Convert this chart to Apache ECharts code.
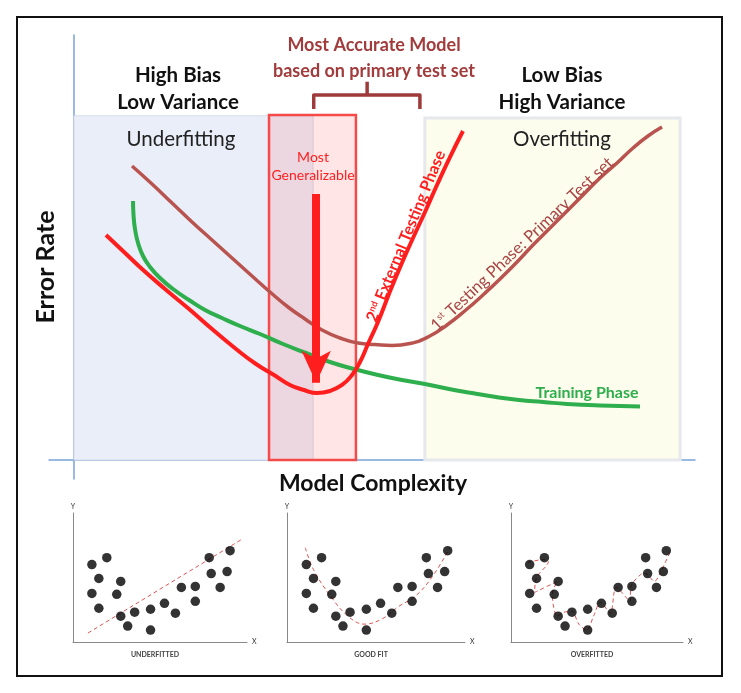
<!DOCTYPE html>
<html>
<head>
<meta charset="utf-8">
<script src="https://cdn.jsdelivr.net/npm/echarts@6/dist/echarts.min.js"></script>
<style>
html,body{margin:0;padding:0;background:#fff;}
#chart{width:741px;height:693px;}
</style>
</head>
<body>
<div id="chart"></div>
<script>
// ---------- Main chart data (Model Complexity 0-100, Error Rate 0-100) ----------
const externalTest = [[5.15,52.94],[8.05,48.94],[10.95,44.94],[14.65,40.24],[18.52,35.53],[22.22,30.82],[26.09,26.12],[29.31,22.59],[32.21,20.0],[34.78,17.65],[37.04,16.47],[39.13,15.76],[41.22,16.24],[43.16,17.65],[44.77,20.0],[46.05,23.06],[47.34,27.29],[48.95,32.47],[50.72,39.06],[52.66,45.88],[54.59,52.24],[56.52,58.35],[58.45,64.71],[60.39,70.82],[62.64,77.41]];
const primaryTest = [[9.34,69.18],[12.56,64.94],[15.78,60.47],[19.0,56.0],[22.22,51.76],[25.44,47.53],[28.66,43.29],[31.56,39.53],[34.46,36.0],[37.2,33.18],[39.94,30.59],[42.83,28.71],[45.73,27.53],[48.47,27.18],[51.21,26.94],[54.11,27.41],[57.0,28.94],[60.06,31.76],[63.29,35.53],[66.02,39.06],[68.6,42.59],[71.34,46.59],[73.91,50.59],[76.65,54.59],[79.39,58.59],[82.13,62.59],[84.7,66.35],[87.44,69.88],[90.02,73.41],[92.43,76.24],[94.69,78.35]];
const training = [[9.5,60.94],[9.58,57.65],[9.82,54.35],[10.31,51.06],[11.11,48.0],[12.24,45.41],[13.85,42.82],[15.94,40.24],[18.52,37.65],[21.1,35.29],[23.83,33.41],[26.73,31.53],[29.95,29.65],[33.66,27.29],[37.36,25.18],[41.22,23.06],[45.09,21.41],[48.95,20.0],[52.82,18.82],[56.52,17.88],[60.39,16.71],[64.09,15.76],[67.95,14.82],[71.66,14.12],[75.52,13.65],[79.39,13.18],[84.7,12.82],[91.14,12.59]];
// regions: [xStart, xEnd, yTop]
const underfitRegion = [0, 38.5, 81.0];
const overfitRegion = [56.5, 97.6, 80.5];
const generalizableRegion = [31.4, 45.4, 81.2];
// arrow: [x, yStart, yEnd]
const arrowLine = [39.0, 62.6, 18.2];
// bracket: [xLeft, xRight, yBar, yEnds, xStem, yStemTop]
const bracket = [38.6, 55.7, 85.9, 82.6, 47.2, 89.0];

// ---------- Mini panel data (same dataset in each) ----------
const miniPoints = [[19,78],[34,85],[26,64],[48,61],[19,49],[44,48],[26,34],[48,26],[55,16],[62,30],[78,33],[78,12],[92,39],[103,29],[109,55],[123,56],[123,41],[137,85],[139,69],[148,55],[155,71],[158,92]];
const underFitLine = [[15,9],[169,103]];
const goodFitLine = [[18,95],[26,73],[43,46],[60,26],[76,18],[93,23],[110,36],[126,46],[143,66],[160,95]];
const overFitLine = [[17,80],[32,83],[38,81],[26,65],[24,50],[47,61],[42,48],[47,26],[54,30],[62,31],[69,18],[77,12],[84,26],[91,40],[101,29],[107,55],[121,41],[122,56],[132,68],[137,69],[146,61],[152,70],[162,91]];
const panelTitles = ['UNDERFITTED','GOOD FIT','OVERFITTED'];

const FONT = 'Lato, "Open Sans", sans-serif';
const RED = '#ff1e1e', BROWN = '#b9534f', GREEN = '#2eae4c', DARKRED = '#9e3a3a';

const chart = echarts.init(document.getElementById('chart'), null, {renderer:'canvas'});

const miniGrids = [
  {left:73, top:513, width:174, height:129},
  {left:287, top:513, width:178, height:129},
  {left:511, top:513, width:172, height:129}
];

const grids = [{left:49, top:35, width:646, height:444}].concat(miniGrids);

const xAxes = [{
  type:'value', gridIndex:0, min:-4.03, max:100,
  axisLine:{show:true, onZero:true, lineStyle:{color:'#7aa3d6', width:1.5}},
  axisTick:{show:false}, axisLabel:{show:false}, splitLine:{show:false}
}];
const yAxes = [{
  type:'value', gridIndex:0, min:-4.47, max:100,
  axisLine:{show:true, onZero:true, lineStyle:{color:'#7aa3d6', width:1.5}},
  axisTick:{show:false}, axisLabel:{show:false}, splitLine:{show:false}
}];
for (let i=1;i<=3;i++){
  xAxes.push({type:'value', gridIndex:i, min:0, max:175,
    name:'X', nameLocation:'end', nameGap:5, nameTextStyle:{fontSize:7, color:'#333', fontFamily:FONT},
    axisLine:{show:true, lineStyle:{color:'#888', width:1}}, axisTick:{show:false}, axisLabel:{show:false}, splitLine:{show:false}});
  yAxes.push({type:'value', gridIndex:i, min:0, max:130,
    name:'Y', nameLocation:'end', nameGap:3, nameTextStyle:{fontSize:7, color:'#333', fontFamily:FONT},
    axisLine:{show:true, lineStyle:{color:'#888', width:1}}, axisTick:{show:false}, axisLabel:{show:false}, splitLine:{show:false}});
}

function region(r, style){
  return [{xAxis:r[0], yAxis:0, itemStyle:style},{xAxis:r[1], yAxis:r[2]}];
}

const series = [
  {
    type:'line', xAxisIndex:0, yAxisIndex:0, data:[], silent:true, z:1,
    markArea:{
      silent:true,
      data:[
        region(underfitRegion, {color:'#e9eef8', borderColor:'#d6dde9', borderWidth:1}),
        region(overfitRegion, {color:'#fdfdee', borderColor:'#e6e8ec', borderWidth:3}),
        region(generalizableRegion, {color:'rgba(255,80,80,0.15)', borderColor:'#f44a4a', borderWidth:2.5})
      ]
    }
  },
  {type:'line', name:'Training Phase', xAxisIndex:0, yAxisIndex:0, data:training, smooth:0.5, showSymbol:false, z:3,
    lineStyle:{color:GREEN, width:4}},
  {type:'line', name:'1st Testing Phase', xAxisIndex:0, yAxisIndex:0, data:primaryTest, smooth:0.5, showSymbol:false, z:4,
    lineStyle:{color:BROWN, width:3.5}},
  {type:'line', name:'2nd External Testing Phase', xAxisIndex:0, yAxisIndex:0, data:externalTest, smooth:0.5, showSymbol:false, z:5,
    lineStyle:{color:RED, width:4}},
  {type:'line', xAxisIndex:0, yAxisIndex:0, z:6, showSymbol:false,
    data:[[bracket[0],bracket[3]],[bracket[0],bracket[2]],[bracket[1],bracket[2]],[bracket[1],bracket[3]]],
    lineStyle:{color:DARKRED, width:3.5, join:'round'}},
  {type:'line', xAxisIndex:0, yAxisIndex:0, z:6, showSymbol:false,
    data:[[bracket[4],bracket[2]],[bracket[4],bracket[5]]],
    lineStyle:{color:DARKRED, width:3.5}},
  {type:'line', xAxisIndex:0, yAxisIndex:0, data:[], z:7,
    markLine:{silent:true, symbol:['none','arrow'], symbolSize:[22,32], label:{show:false},
      lineStyle:{color:RED, width:8, type:'solid'},
      data:[[{coord:[arrowLine[0],arrowLine[1]]},{coord:[arrowLine[0],arrowLine[2]]}]]}}
];

const fitLines = [underFitLine, goodFitLine, overFitLine];
for (let i=1;i<=3;i++){
  series.push({type:'line', xAxisIndex:i, yAxisIndex:i, data:fitLines[i-1], smooth: i===2 ? 0.4 : (i===3 ? 0.3 : false), showSymbol:false,
    lineStyle:{color:'#e05555', width:1, type:[4,3]}, z:2});
  series.push({type:'scatter', xAxisIndex:i, yAxisIndex:i, data:miniPoints, symbolSize:9.5,
    itemStyle:{color:'#000'}, z:3});
}

function txt(x,y,text,size,weight,color,rot){
  return {type:'text', x:x, y:y, rotation:(rot||0)*Math.PI/180, z:100,
    style:{text:text, fontSize:size, fontWeight:weight, fill:color, fontFamily:FONT, align:'center', verticalAlign:'middle'}};
}

const graphics = [
  {type:'rect', shape:{x:17, y:17, width:705, height:659}, style:{fill:'none', stroke:'#111', lineWidth:2}, z:100},
  txt(178,75,'High Bias',20.5,'bold','#111'),
  txt(178,102,'Low Variance',20.5,'bold','#111'),
  txt(562,75,'Low Bias',20.5,'bold','#111'),
  txt(562,102,'High Variance',20.5,'bold','#111'),
  txt(374,45,'Most Accurate Model',18,'bold','#a23c3c'),
  txt(374,71,'based on primary test set',18,'bold','#a23c3c'),
  txt(181,139,'Underfitting',20.5,'normal','#222'),
  txt(562,139,'Overfitting',20.5,'normal','#222'),
  txt(313,157,'Most',14,'normal',RED),
  txt(313,175,'Generalizable',14,'normal',RED),
  txt(46,267,'Error Rate',25,'bold','#111',90),
  txt(373,484,'Model Complexity',23,'bold','#111'),
  txt(587,393,'Training Phase',16,'bold',GREEN),
  {type:'text', x:406, y:236, rotation:67.6*Math.PI/180, z:100,
    style:{rich:{a:{fontSize:16, fontWeight:'bold', fill:RED, fontFamily:FONT}, s:{fontSize:9, fontWeight:'bold', fill:RED, fontFamily:FONT, verticalAlign:'top'}},
      text:'{a|2}{s|nd}{a| External Testing Phase}', align:'center', verticalAlign:'middle'}},
  {type:'text', x:522, y:244, rotation:43.4*Math.PI/180, z:100,
    style:{rich:{a:{fontSize:16.5, fontWeight:'normal', fill:'#a84444', fontFamily:FONT}, s:{fontSize:9, fontWeight:'normal', fill:'#a84444', fontFamily:FONT, verticalAlign:'top'}},
      text:'{a|1}{s|st}{a| Testing Phase: Primary Test set}', align:'center', verticalAlign:'middle'}}
];
panelTitles.forEach((t,i)=>{
  const g = miniGrids[i];
  graphics.push(txt(g.left+g.width/2-5, 655, t, 7, 'bold', '#444'));
});

chart.setOption({
  animation:false,
  backgroundColor:'#ffffff',
  grid:grids, xAxis:xAxes, yAxis:yAxes, series:series, graphic:graphics
});
</script>
</body>
</html>
